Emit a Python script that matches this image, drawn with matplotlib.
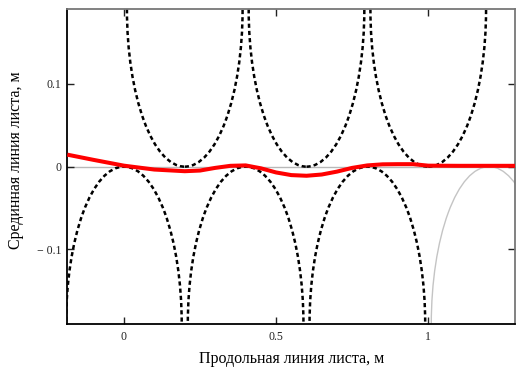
import matplotlib
matplotlib.use("Agg")
import matplotlib.pyplot as plt
from matplotlib.patches import Circle

plt.rcParams['font.family'] = ['Liberation Serif', 'DejaVu Serif']
plt.rcParams['lines.scale_dashes'] = False

# data
radius = 0.19
upper_centers = [0.2, 0.6, 1.0]        # dashed arcs, centre at y = +radius
lower_centers = [0.0, 0.4, 0.8]        # dashed arcs, centre at y = -radius
gray_centers = [1.2]                   # thin gray arc, centre at y = -radius

mid_x = [-0.186, -0.1, 0.0, 0.1, 0.2, 0.25, 0.3, 0.35, 0.4, 0.45, 0.5,
         0.55, 0.6, 0.65, 0.7, 0.75, 0.8, 0.85, 0.9, 0.95, 1.0, 1.1, 1.285]
mid_y = [0.0145, 0.0082, 0.0012, -0.0035, -0.0055, -0.0047, -0.0015,
         0.001, 0.0015, -0.002, -0.007, -0.0102, -0.011, -0.0095, -0.006,
         -0.0015, 0.0015, 0.0028, 0.003, 0.003, 0.0012, 0.001, 0.001]

xticks = [0, 0.5, 1]
xtick_labels = ['0', '0.5', '1']
yticks = [-0.1, 0, 0.1]
ytick_labels = ['\u2212 0.1', '0', '0.1']

fig = plt.figure(figsize=(5.29, 3.81), dpi=100)
ax = fig.add_axes([0.1272, 0.1496, 0.8463, 0.826])

ax.axhline(0, color='#b8b8b8', lw=1.0, zorder=1)

for cx in upper_centers:
    ax.add_patch(Circle((cx, radius), radius, fill=False, ec='black',
                        lw=1.8, linestyle=(0, (3.0, 2.2)), zorder=2))
for cx in lower_centers:
    ax.add_patch(Circle((cx, -radius), radius, fill=False, ec='black',
                        lw=1.8, linestyle=(0, (3.0, 2.2)), zorder=2))
for cx in gray_centers:
    ax.add_patch(Circle((cx, -radius), radius, fill=False, ec='#c4c4c4',
                        lw=1.0, zorder=2))

ax.plot(mid_x, mid_y, color='#ff0000', lw=2.9, solid_capstyle='butt', zorder=3)

ax.set_xlim(-0.186, 1.285)
ax.set_ylim(-0.19, 0.19)

ax.set_xticks(xticks)
ax.set_xticklabels(xtick_labels)
ax.set_yticks(yticks)
ax.set_yticklabels(ytick_labels)
ax.tick_params(axis='x', direction='in', length=5, width=1, top=True,
               labelsize=8.5, pad=5, colors='#222222')
ax.tick_params(axis='y', direction='in', length=5, width=1, right=True,
               labelsize=8.5, pad=4, colors='#222222')

for side in ['left', 'bottom']:
    ax.spines[side].set_color('black')
    ax.spines[side].set_linewidth(1.3)
for side in ['top', 'right']:
    ax.spines[side].set_color('#777777')
    ax.spines[side].set_linewidth(1.3)

ax.set_xlabel('Продольная линия листа, м', fontsize=11.5)
ax.set_ylabel('Срединная линия листа, м', fontsize=11.5)
ax.xaxis.set_label_coords(0.5, -0.085)
ax.yaxis.set_label_coords(-0.097, 0.52)

fig.savefig('out.png', dpi=100)
